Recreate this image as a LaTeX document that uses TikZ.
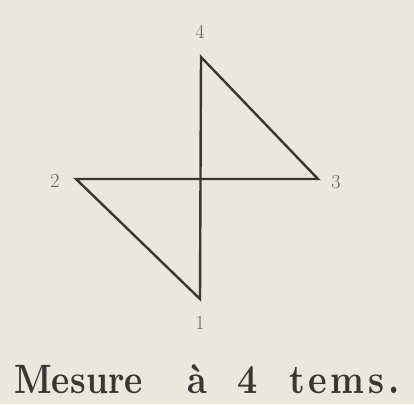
\documentclass[tikz,border=0pt]{standalone}
\usepackage{fontspec}
\setmainfont{Latin Modern Roman}
\newfontfamily\capfont{lmroman10-bold.otf}[FakeStretch=0.86,LetterSpace=5]
\newfontfamily\captightfont{lmroman10-bold.otf}[FakeStretch=0.84,LetterSpace=0.5]
\newfontfamily\capwidefont{lmroman10-bold.otf}[FakeStretch=0.86,LetterSpace=9]
\definecolor{paper}{RGB}{234,231,221}
\definecolor{ink}{RGB}{55,55,52}
\definecolor{labelink}{RGB}{95,94,88}
\tikzset{
  edge/.style={draw=ink, line width=2.4pt, line join=miter},
  numlabel/.style={text=labelink, font=\fontsize{20}{20}\selectfont, inner sep=0pt},
  capword/.style={anchor=base west, inner sep=0pt, text=ink,
    font=\capfont\fontsize{41}{41}\selectfont},
  capword tight/.style={capword, font=\captightfont\fontsize{41}{41}\selectfont},
  capword wide/.style={capword, font=\capwidefont\fontsize{41}{41}\selectfont}
}
\begin{document}
\begin{tikzpicture}[x=1pt,y=-1pt]
\fill[paper] (0,0) rectangle (414,404);
\useasboundingbox (0,0) rectangle (414,404);
\coordinate (v4) at (201,57);
\coordinate (v3) at (318,179);
\coordinate (v2) at (76,179);
\coordinate (v1) at (200,299);
\node[numlabel] (l4) at (200,32) {4};
\node[numlabel] (l3) at (336,182) {3};
\node[numlabel] (l2) at (55,181) {2};
\node[numlabel] (l1) at (200,323) {1};
\draw[edge] (v1) -- (v2) -- (v3) -- (v4) -- cycle;
\node[capword tight] (w1) at (14,393) {Mesure};
\node[capword] (w2) at (187,393) {\`a};
\node[capword] (w3) at (237,393) {4};
\node[capword wide] (w4) at (289,393) {tems.};
\end{tikzpicture}
\end{document}
